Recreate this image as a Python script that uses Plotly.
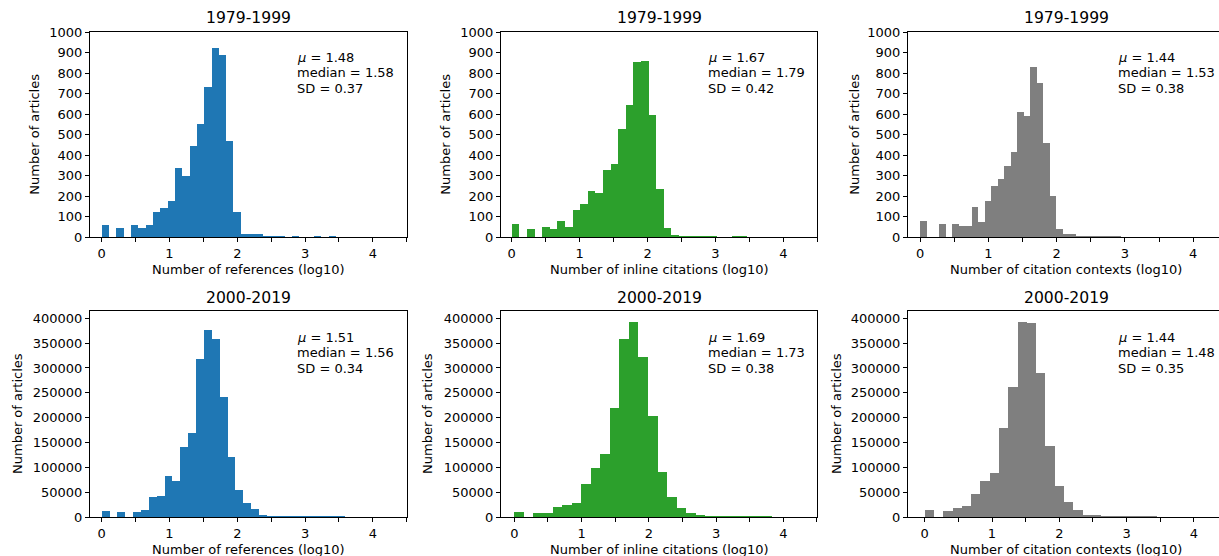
import plotly.graph_objects as go

# ---------------- data ----------------
period_titles = ["1979-1999", "2000-2019"]
x_titles = ["Number of references (log10)",
            "Number of inline citations (log10)",
            "Number of citation contexts (log10)"]
colors = ["#1f77b4", "#2ca02c", "#7f7f7f"]

# bin widths (log10 units), bins start at 0
bin_width_refs_7999 = 0.108
bin_width_inline_7999 = 0.112
bin_width_ctx_7999 = 0.095
bin_width_refs_0019 = 0.116
bin_width_inline_0019 = 0.142
bin_width_ctx_0019 = 0.138

counts_refs_7999 = [58, 0, 44, 0, 58, 44, 58, 119, 141, 176, 338, 298, 444, 551, 730,
                    922, 889, 468, 119, 15, 15, 13, 2, 2, 1, 0, 1, 0, 0, 3, 0, 1]
counts_inline_7999 = [63, 0, 39, 0, 49, 39, 78, 49, 131, 161, 224, 214, 326, 355, 526,
                      643, 852, 857, 594, 234, 44, 10, 3, 3, 3, 2, 2, 0, 0, 3, 2]
counts_ctx_7999 = [75, 0, 0, 63, 0, 63, 54, 54, 146, 73, 175, 250, 282, 346, 414, 609,
                   589, 828, 751, 458, 200, 37, 15, 15, 3, 3, 2, 2, 2, 1, 1]
counts_refs_0019 = [12000, 0, 10000, 0, 10000, 14000, 40000, 42000, 83000, 72000,
                    141000, 170000, 318000, 376000, 358000, 242000, 121000, 54000,
                    28000, 16000, 5000, 2000, 1000, 800, 600, 500, 400, 300, 200, 200, 100]
counts_inline_0019 = [10000, 0, 8000, 8000, 21000, 24000, 28000, 66000, 99000, 127000,
                      219000, 358000, 393000, 322000, 203000, 91000, 40000, 19000,
                      8000, 3000, 1500, 1000, 800, 600, 500, 300, 200]
counts_ctx_0019 = [14000, 0, 12000, 19000, 22000, 46000, 72000, 89000, 179000, 262000,
                   393000, 391000, 290000, 143000, 62000, 30000, 14000, 4000, 3000,
                   1500, 1000, 800, 500, 300, 200]

stats_mean = [1.48, 1.67, 1.44, 1.51, 1.69, 1.44]
stats_median = [1.58, 1.79, 1.53, 1.56, 1.73, 1.48]
stats_sd = [0.37, 0.42, 0.38, 0.34, 0.38, 0.35]

x_tick_vals = [0, 0.5, 1, 1.5, 2, 2.5, 3, 3.5, 4, 4.5]
x_tick_text = ["0", "", "1", "", "2", "", "3", "", "4", ""]
top_y_ticks = list(range(0, 1001, 100))
bottom_y_ticks = list(range(0, 400001, 50000))

panels = [
    (counts_refs_7999, bin_width_refs_7999),
    (counts_inline_7999, bin_width_inline_7999),
    (counts_ctx_7999, bin_width_ctx_7999),
    (counts_refs_0019, bin_width_refs_0019),
    (counts_inline_0019, bin_width_inline_0019),
    (counts_ctx_0019, bin_width_ctx_0019),
]

# ---------------- layout geometry ----------------
W, H = 1219, 556
FONT = "DejaVu Sans"
FS = 13
col_px = [(90, 406.7), (501, 817.3), (908, 1219)]
row_px = [(32.3, 237), (311, 517)]  # top, bottom pixel rows
x_ranges = [[-0.173, 4.50], [-0.158, 4.50], [-0.176, 4.378],
            [-0.173, 4.50], [-0.198, 4.505], [-0.248, 4.372]]
y_ranges = [[0, 1000], [0, 414700]]
stat_x_px = [296, 706.7, 1117, 296, 706.7, 1117.3]
stat_line_offsets = [[24.7, 40.4, 56.0], [26.0, 41.7, 57.3]]
ytitle_x_px = [[35, 446, 855], [17, 427, 836]]
title_y_px = [18, 298]
xtitle_y_px = [269, 549]

fig = go.Figure()
layout = dict(width=W, height=H, margin=dict(l=0, r=0, t=0, b=0, pad=0, autoexpand=False),
              paper_bgcolor="white", plot_bgcolor="white", showlegend=False,
              font=dict(family=FONT, size=FS, color="black"), bargap=0)
annotations = []

for idx, (counts, bw) in enumerate(panels):
    r, c = divmod(idx, 3)
    n = idx + 1
    xa = "x" if n == 1 else f"x{n}"
    ya = "y" if n == 1 else f"y{n}"
    fig.add_trace(go.Bar(
        x=[i * bw for i in range(len(counts))], y=counts, width=bw, offset=0,
        marker=dict(color=colors[c], line=dict(width=0)),
        xaxis=xa, yaxis=ya, hoverinfo="skip"))
    x0, x1 = col_px[c]
    t0, b0 = row_px[r]
    layout["xaxis" if n == 1 else f"xaxis{n}"] = dict(
        domain=[x0 / W, x1 / W], range=x_ranges[idx], anchor=ya, automargin=False,
        tickvals=x_tick_vals, ticktext=x_tick_text, ticks="outside", ticklen=4,
        tickwidth=1, tickcolor="black", showline=True, linecolor="black",
        linewidth=1, mirror=True, showgrid=False, zeroline=False,
        tickfont=dict(family=FONT, size=FS, color="black"))
    layout["yaxis" if n == 1 else f"yaxis{n}"] = dict(
        domain=[(H - b0) / H, (H - t0) / H], range=y_ranges[r], anchor=xa,
        automargin=False,
        tickvals=top_y_ticks if r == 0 else bottom_y_ticks,
        ticks="outside", ticklen=4, tickwidth=1, tickcolor="black",
        showline=True, linecolor="black", linewidth=1,
        mirror=(c != 2), showgrid=False, zeroline=False,
        tickformat="d",
        tickfont=dict(family=FONT, size=FS, color="black"))
    xc = (x0 + (x0 + 316.7)) / 2 if c == 2 else (x0 + x1) / 2
    # subplot title
    annotations.append(dict(text=period_titles[r], x=xc / W, y=(H - title_y_px[r]) / H,
                            xref="paper", yref="paper", showarrow=False,
                            xanchor="center", yanchor="middle",
                            font=dict(family=FONT, size=15.6, color="black")))
    # x axis title
    annotations.append(dict(text=x_titles[c], x=xc / W, y=(H - xtitle_y_px[r]) / H,
                            xref="paper", yref="paper", showarrow=False,
                            xanchor="center", yanchor="middle",
                            font=dict(family=FONT, size=FS, color="black")))
    # y axis title
    annotations.append(dict(text="Number of articles", x=ytitle_x_px[r][c] / W,
                            y=(H - (t0 + b0) / 2) / H, xref="paper", yref="paper",
                            showarrow=False, textangle=-90, xanchor="center",
                            yanchor="middle",
                            font=dict(family=FONT, size=FS, color="black")))
    # stats text, one annotation per line
    lines = [f"<i>μ</i> = {stats_mean[idx]:.2f}",
             f"median = {stats_median[idx]:.2f}",
             f"SD = {stats_sd[idx]:.2f}"]
    for line, off in zip(lines, stat_line_offsets[r]):
        annotations.append(dict(text=line, x=stat_x_px[idx] / W,
                                y=(H - (t0 + off)) / H, xref="paper", yref="paper",
                                showarrow=False, xanchor="left", yanchor="middle",
                                align="left", borderpad=0,
                                font=dict(family=FONT, size=FS, color="black")))

layout["annotations"] = annotations
fig.update_layout(**layout)
fig.write_html("out.html", config={"displayModeBar": False},
               post_script="document.body.style.margin='0';document.body.style.overflow='hidden';")
